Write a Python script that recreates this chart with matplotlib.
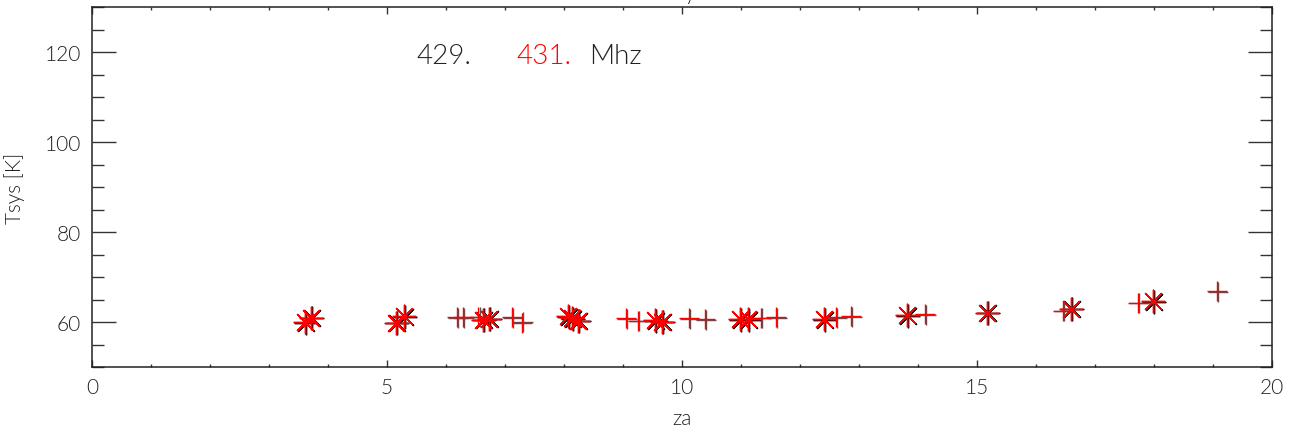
import numpy as np
import matplotlib
matplotlib.use("Agg")
import matplotlib.pyplot as plt
from matplotlib.ticker import MultipleLocator

# ---------------- data ----------------
# asterisk points (za, Tsys) for 431 MHz (red); 429 MHz (black) sits almost underneath
za_star = [3.61, 3.71, 5.15, 5.29, 6.63, 6.73, 8.07, 8.14, 8.24, 9.54, 9.66,
           10.98, 11.12, 12.41, 13.81, 15.17, 16.59, 17.98]
tsys_star_431 = [59.9, 60.9, 59.7, 61.3, 60.5, 60.7, 61.3, 60.8, 60.3, 60.4, 60.1,
                 60.7, 60.6, 60.7, 61.5, 62.1, 63.0, 64.6]
tsys_star_429 = [59.8, 60.8, 59.8, 61.1, 60.4, 60.6, 61.1, 60.6, 60.2, 60.3, 60.0,
                 60.5, 60.4, 60.5, 61.4, 62.0, 62.9, 64.5]

# plus points
za_plus = [6.19, 6.29, 6.55, 7.12, 7.28, 9.05, 9.25, 10.12, 10.39, 11.34, 11.59,
           12.61, 12.86, 14.12, 16.46, 17.73, 19.07]
tsys_plus_431 = [61.1, 61.2, 61.1, 61.1, 59.8, 60.8, 60.3, 60.8, 60.6, 61.0, 61.1,
                 61.1, 61.3, 61.7, 62.5, 64.3, 66.8]
tsys_plus_429 = [60.9, 61.0, 61.2, 61.0, 59.9, 60.6, 60.2, 60.6, 60.5, 60.8, 60.9,
                 60.9, 61.2, 61.6, 62.4, 64.2, 66.7]

freq_labels = ["429.", "431."]
xlim = (0, 20)
ylim = (50, 130)

# ---------------- plotting ----------------
plt.rcParams['font.family'] = ['Lato', 'DejaVu Sans']
plt.rcParams['font.weight'] = 300
plt.rcParams['axes.labelweight'] = 300

fig = plt.figure(figsize=(13, 4.35), dpi=100)
ax = fig.add_axes([92 / 1300, 67 / 435, 1180 / 1300, 360 / 435])

star = (8, 2, 0)
ax.plot(np.array(za_star) + 0.02, tsys_star_429, ls="none", marker=star,
        ms=17, mew=1.0, color="#111111")
ax.plot(np.array(za_plus) + 0.02, tsys_plus_429, ls="none", marker="+",
        ms=14, mew=1.0, color="#555555")
ax.plot(za_star, tsys_star_431, ls="none", marker=star,
        ms=17, mew=1.0, color="red")
ax.plot(za_plus, tsys_plus_431, ls="none", marker="+",
        ms=14, mew=1.0, color="red")

ax.set_xlim(*xlim)
ax.set_ylim(*ylim)
ax.xaxis.set_major_locator(MultipleLocator(5))
ax.xaxis.set_minor_locator(MultipleLocator(1))
ax.yaxis.set_major_locator(MultipleLocator(20))
ax.yaxis.set_minor_locator(MultipleLocator(5))

ax.tick_params(axis="both", which="both", direction="in", top=True, right=True,
               labelsize=15, width=1.0, color="#333333", labelcolor="#222222")
ax.tick_params(axis="x", which="major", length=5, pad=7)
ax.tick_params(axis="x", which="minor", length=2.5)
ax.tick_params(axis="y", which="major", length=17, pad=8)
ax.tick_params(axis="y", which="minor", length=8.5)
for lbl in ax.get_xticklabels() + ax.get_yticklabels():
    lbl.set_fontweight(300)
for sp in ax.spines.values():
    sp.set_linewidth(1.1)
    sp.set_color("#222222")

ax.set_xlabel("za", fontsize=15, labelpad=8, color="#222222", fontweight=300)
ax.set_ylabel("Tsys [K]", fontsize=15, labelpad=14, color="#222222", fontweight=300)

# label of the two frequencies, placed in figure coordinates
fig.text(416 / 1300, 1 - 57 / 435, freq_labels[0], fontsize=20, color="#222222",
         va="center", ha="left", fontweight=300)
fig.text(516 / 1300, 1 - 57 / 435, freq_labels[1], fontsize=20, color="red",
         va="center", ha="left", fontweight=300)
fig.text(589 / 1300, 1 - 57 / 435, "Mhz", fontsize=20, color="#222222",
         va="center", ha="left", fontweight=300)

# clipped title above the frame, only the descender shows
fig.text(690 / 1300, 1.0, "y", fontsize=15, color="#222222", ha="center",
         va="baseline", fontweight=300)

fig.savefig("out.png", dpi=100)
